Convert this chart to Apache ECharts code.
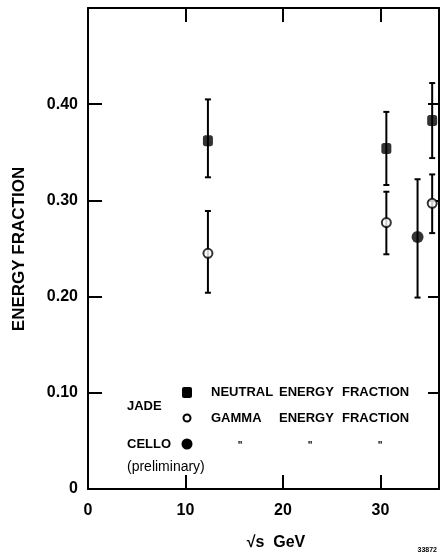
<!DOCTYPE html>
<html>
<head>
<meta charset="utf-8">
<script src="https://cdn.jsdelivr.net/npm/echarts@6/dist/echarts.min.js"></script>
<style>html,body{margin:0;padding:0;background:#fff;}#c{width:440px;height:556px;}</style>
</head>
<body>
<div id="c"></div>
<script>
// ---- data ----
const xTickValues = [0, 10, 20, 30];
const xTickLabels = ['0', '10', '20', '30'];
const yTickValues = [0, 0.1, 0.2, 0.3, 0.4];
const yTickLabels = ['0', '0.10', '0.20', '0.30', '0.40'];

// JADE neutral energy fraction
const jadeNeutralX = [12.3, 30.6, 35.3];
const jadeNeutralY = [0.362, 0.354, 0.383];
const jadeNeutralLo = [0.324, 0.316, 0.344];
const jadeNeutralHi = [0.405, 0.392, 0.422];

// JADE gamma energy fraction
const jadeGammaX = [12.3, 30.6, 35.3];
const jadeGammaY = [0.245, 0.277, 0.297];
const jadeGammaLo = [0.204, 0.244, 0.266];
const jadeGammaHi = [0.289, 0.309, 0.327];

// CELLO (preliminary) neutral energy fraction
const celloX = [33.8];
const celloY = [0.262];
const celloLo = [0.199];
const celloHi = [0.322];

const FONT = "'Liberation Sans', Arial, sans-serif";

function pts(xs, ys) { return xs.map((x, i) => [x, ys[i]]); }
function errs(xs, lo, hi) { return xs.map((x, i) => [x, lo[i], hi[i]]); }

function renderErr(params, api) {
  const x = api.value(0), lo = api.value(1), hi = api.value(2);
  const p1 = api.coord([x, hi]), p2 = api.coord([x, lo]);
  const cap = 3;
  const st = { stroke: '#000', lineWidth: 2 };
  return {
    type: 'group',
    children: [
      { type: 'line', shape: { x1: p1[0], y1: p1[1], x2: p2[0], y2: p2[1] }, style: st },
      { type: 'line', shape: { x1: p1[0] - cap, y1: p1[1], x2: p1[0] + cap, y2: p1[1] }, style: st },
      { type: 'line', shape: { x1: p2[0] - cap, y1: p2[1], x2: p2[0] + cap, y2: p2[1] }, style: st }
    ]
  };
}

function xFmt(v) { const i = xTickValues.indexOf(v); return i >= 0 ? xTickLabels[i] : ''; }
function yFmt(v) {
  for (let i = 0; i < yTickValues.length; i++) if (Math.abs(v - yTickValues[i]) < 1e-9) return yTickLabels[i];
  return '';
}

const axLine = { show: true, onZero: false, lineStyle: { color: '#000', width: 2 } };
const chart = echarts.init(document.getElementById('c'), null, { renderer: 'canvas' });

const lblFont = { color: '#000', fontFamily: FONT, fontWeight: 'bold', fontSize: 16 };
const legFont = { fill: '#000', fontFamily: FONT, fontWeight: 'bold', fontSize: 13 };

function gText(x, y, text, extra) {
  return {
    type: 'text', x: x, y: y,
    style: Object.assign({ text: text, textVerticalAlign: 'middle', textAlign: 'left' }, legFont, (extra || {}))
  };
}

chart.setOption({
  animation: false,
  backgroundColor: '#fff',
  grid: { left: 88, top: 8, width: 351, height: 481 },
  xAxis: [
    {
      type: 'value', position: 'bottom', min: 0, max: 36, interval: 10,
      axisLine: axLine, splitLine: { show: false },
      axisTick: { inside: true, length: 14, lineStyle: { color: '#000', width: 2 } },
      axisLabel: Object.assign({ margin: 14, formatter: xFmt, showMaxLabel: false }, lblFont)
    },
    {
      type: 'value', position: 'top', min: 0, max: 36, interval: 10,
      axisLine: axLine, splitLine: { show: false },
      axisTick: { inside: true, length: 14, lineStyle: { color: '#000', width: 2 } },
      axisLabel: { show: false }
    }
  ],
  yAxis: [
    {
      type: 'value', position: 'left', min: 0, max: 0.5, interval: 0.1,
      axisLine: axLine, splitLine: { show: false },
      axisTick: { inside: true, length: 14, lineStyle: { color: '#000', width: 2 } },
      axisLabel: Object.assign({ margin: 10, formatter: yFmt, showMaxLabel: false }, lblFont)
    },
    {
      type: 'value', position: 'right', min: 0, max: 0.5, interval: 0.1,
      axisLine: axLine, splitLine: { show: false },
      axisTick: { inside: true, length: 11, lineStyle: { color: '#000', width: 2 } },
      axisLabel: { show: false }
    }
  ],
  series: [
    { type: 'custom', renderItem: renderErr, data: errs(jadeNeutralX, jadeNeutralLo, jadeNeutralHi), encode: { x: 0, y: [1, 2] }, z: 2 },
    { type: 'custom', renderItem: renderErr, data: errs(jadeGammaX, jadeGammaLo, jadeGammaHi), encode: { x: 0, y: [1, 2] }, z: 2 },
    { type: 'custom', renderItem: renderErr, data: errs(celloX, celloLo, celloHi), encode: { x: 0, y: [1, 2] }, z: 2 },
    { type: 'scatter', data: pts(jadeNeutralX, jadeNeutralY), symbol: 'roundRect', symbolSize: [10, 11], itemStyle: { color: '#000' }, z: 5 },
    { type: 'scatter', data: pts(jadeGammaX, jadeGammaY), symbol: 'circle', symbolSize: 9, itemStyle: { color: '#fff', borderColor: '#000', borderWidth: 2 }, z: 5 },
    { type: 'scatter', data: pts(celloX, celloY), symbol: 'circle', symbolSize: 12, itemStyle: { color: '#000' }, z: 5 }
  ],
  graphic: [
    { type: 'text', x: 19, y: 249, rotation: Math.PI / 2,
      style: { text: 'ENERGY FRACTION', textAlign: 'center', textVerticalAlign: 'middle', fill: '#000', fontFamily: FONT, fontWeight: 'bold', fontSize: 17 } },
    { type: 'text', x: 276, y: 543,
      style: { text: '√s  GeV', textAlign: 'center', textVerticalAlign: 'middle', fill: '#000', fontFamily: FONT, fontWeight: 'bold', fontSize: 16 } },
    { type: 'text', x: 437, y: 550,
      style: { text: '33872', textAlign: 'right', textVerticalAlign: 'middle', fill: '#000', fontFamily: FONT, fontWeight: 'bold', fontSize: 7 } },
    gText(127, 406, 'JADE'),
    { type: 'rect', shape: { x: 182, y: 387, width: 10, height: 11, r: 2 }, style: { fill: '#000' } },
    gText(211, 392, 'NEUTRAL'), gText(279, 392, 'ENERGY'), gText(342, 392, 'FRACTION'),
    { type: 'circle', shape: { cx: 187, cy: 418, r: 3.5 }, style: { fill: '#fff', stroke: '#000', lineWidth: 2 } },
    gText(211, 418, 'GAMMA'), gText(279, 418, 'ENERGY'), gText(342, 418, 'FRACTION'),
    gText(127, 444, 'CELLO'),
    { type: 'circle', shape: { cx: 187, cy: 444, r: 5.5 }, style: { fill: '#000' } },
    gText(240, 446, '"', { fontSize: 10, textAlign: 'center' }),
    gText(310, 446, '"', { fontSize: 10, textAlign: 'center' }),
    gText(380, 446, '"', { fontSize: 10, textAlign: 'center' }),
    gText(127, 467, '(preliminary)', { fontWeight: 'normal', fontSize: 14 })
  ]
});
</script>
</body>
</html>
